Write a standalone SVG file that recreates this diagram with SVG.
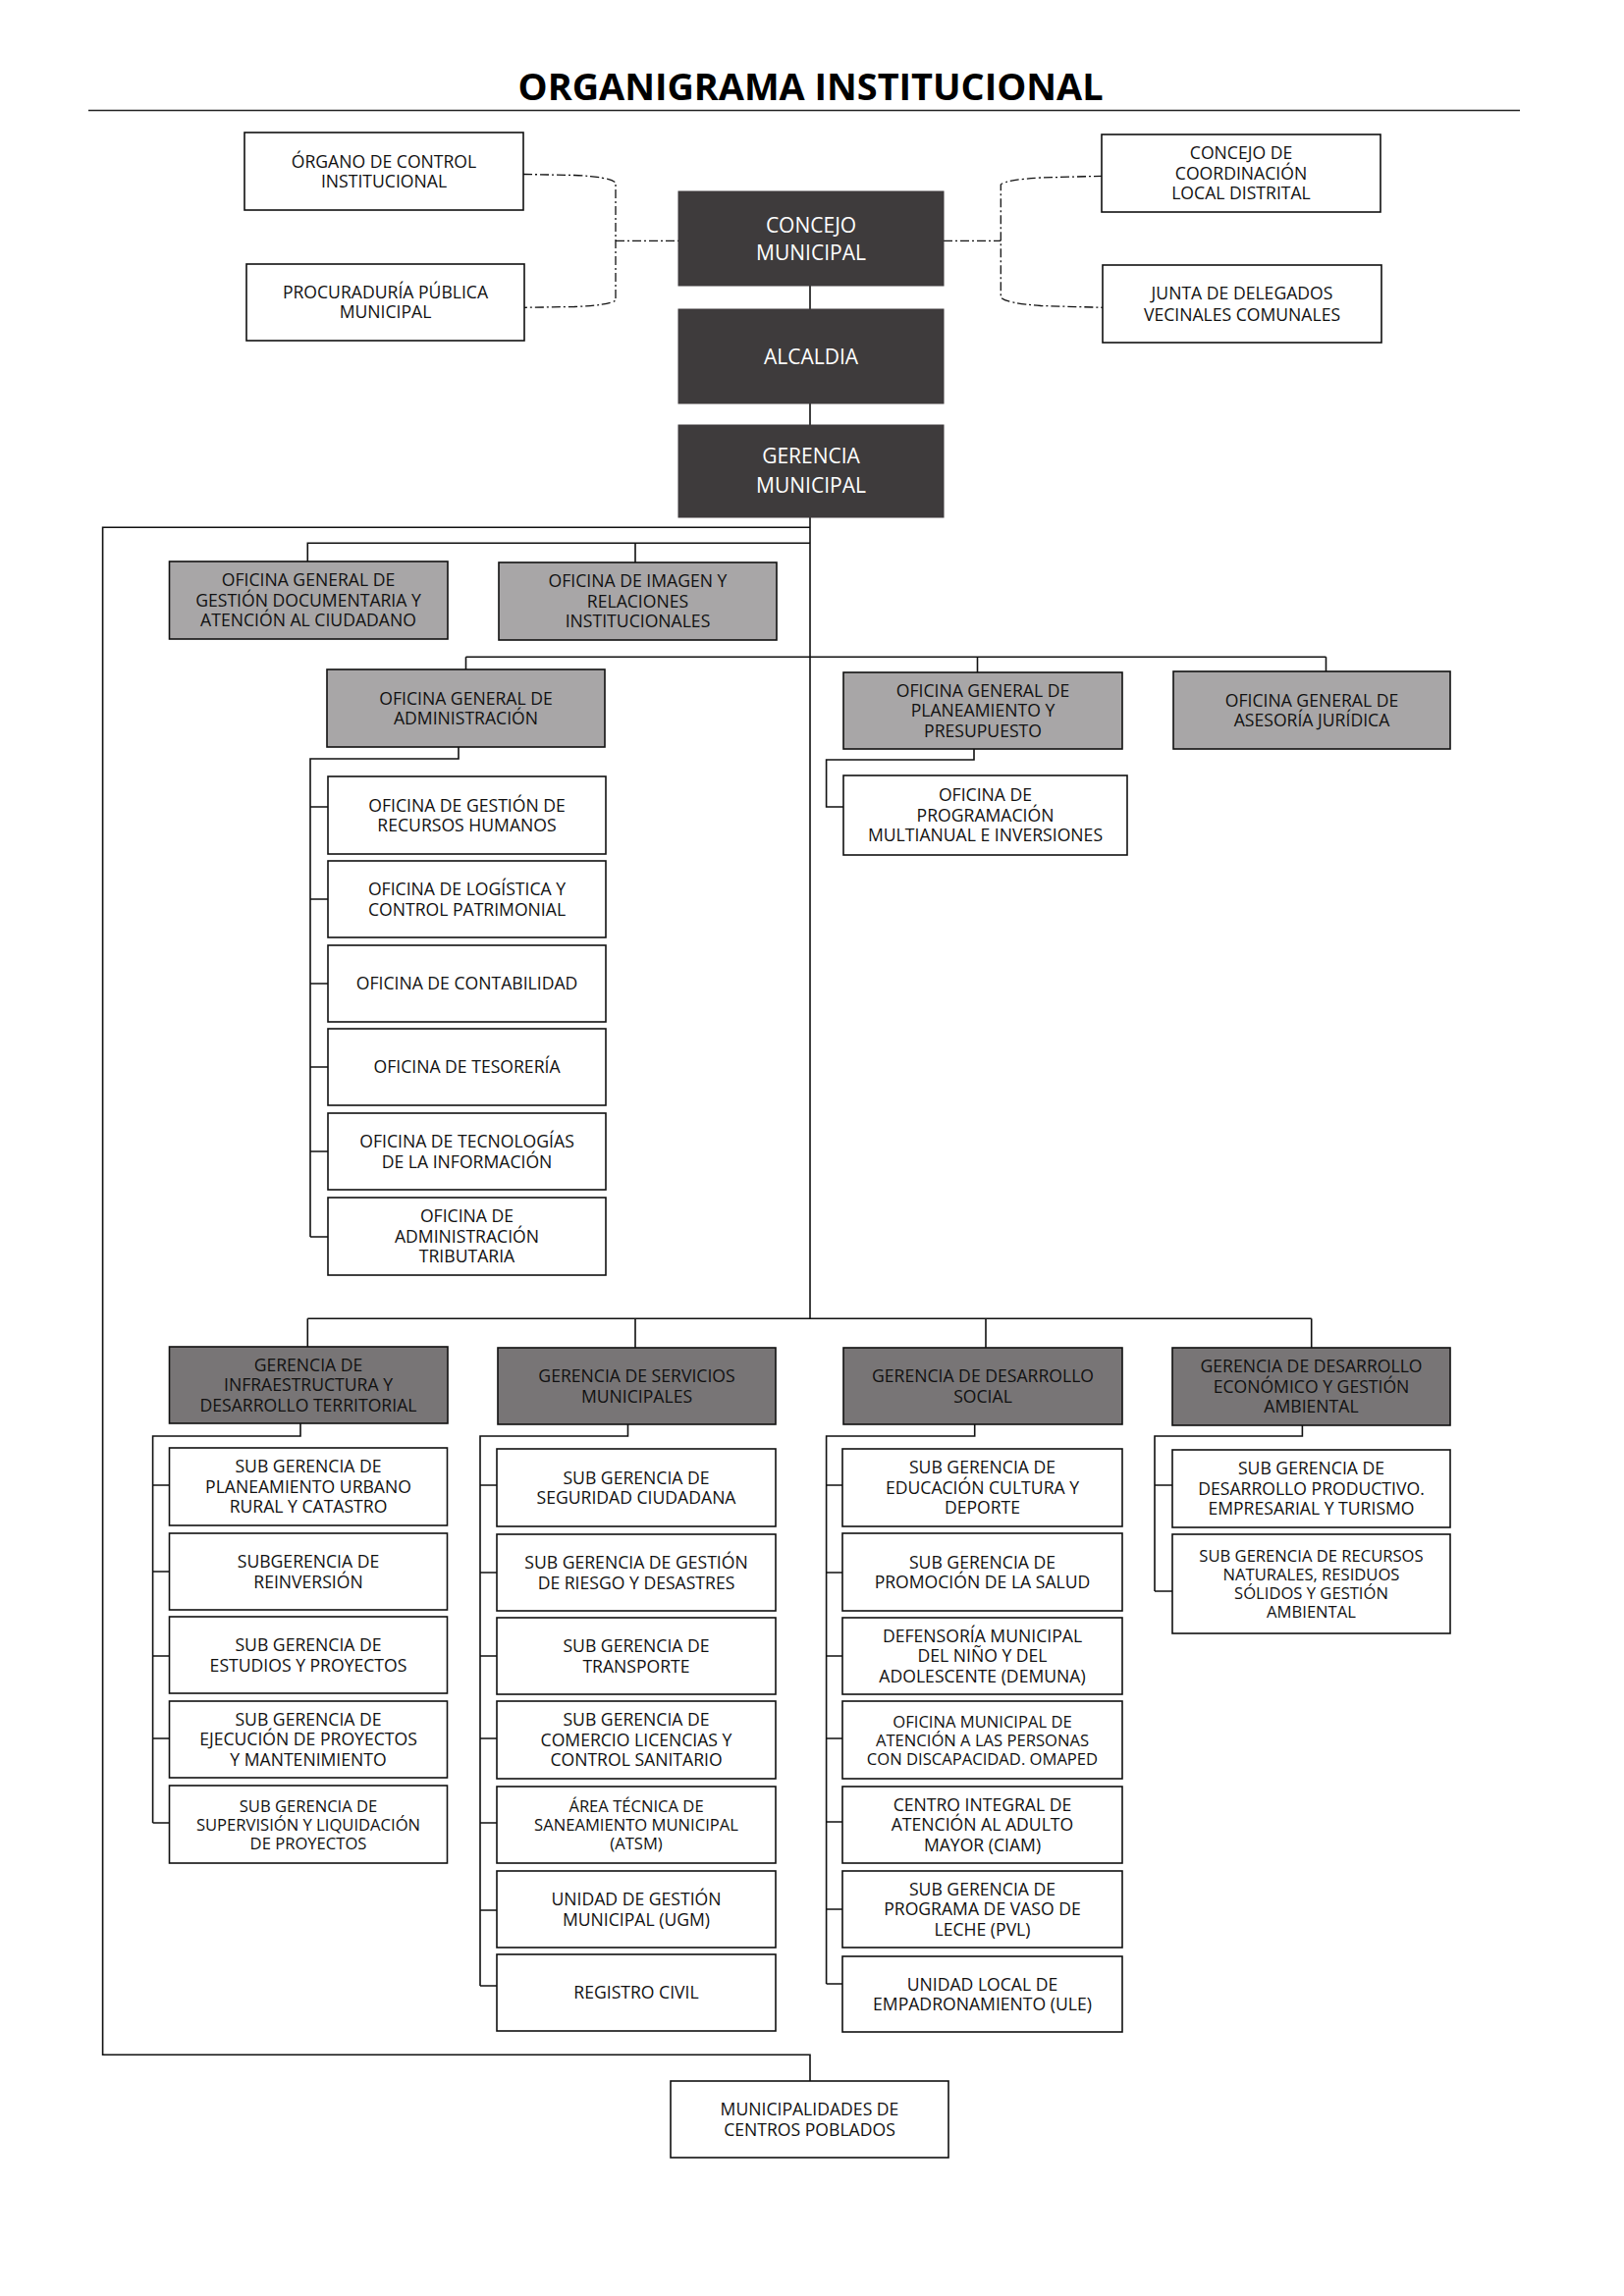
<svg xmlns="http://www.w3.org/2000/svg" width="1654" height="2339" viewBox="0 0 1654 2339">
<style>
text{font-family:"Open Sans","Liberation Sans",sans-serif;font-size:17.6px;fill:#111;text-anchor:middle}
.t{font-size:38px;font-weight:bold;fill:#000}
.w{fill:#ffffff;stroke:#111;stroke-width:1.6}
.g1{fill:#a8a6a7;stroke:#111;stroke-width:1.6}
.g2{fill:#787576;stroke:#111;stroke-width:1.6}
.d{fill:#3e3b3c;stroke:#3e3b3c;stroke-width:1}
.dt{fill:#ffffff;font-size:21px}
.s{font-size:16.6px}
.c{fill:none;stroke:#111;stroke-width:1.6}
.dash{fill:none;stroke:#111;stroke-width:1.3;stroke-dasharray:9 3 2 3}
</style>
<rect width="1654" height="2339" fill="#ffffff"/>
<text class="t" x="825.6" y="102" textLength="596" lengthAdjust="spacingAndGlyphs">ORGANIGRAMA INSTITUCIONAL</text>
<path d="M90,112.5 H1548" stroke="#222" stroke-width="1.3" fill="none"/>

<g id="connectors">
<path class="dash" d="M533,177.5 L585,178.5 Q620,180 627,186 L627,306 Q620,311 585,312.5 L534,313.3"/>
<path class="dash" d="M627,245.3 H691"/>
<path class="dash" d="M961,245.3 H1019.3"/>
<path class="dash" d="M1123,179.3 L1060,181 Q1025,183 1019.3,188 L1019.3,303 Q1025,309 1060,311.5 L1123,313.3"/>
<path class="c" d="M825,291 V315 M825,411 V433 M825,527 V1343"/>
<path class="c" d="M825,537.3 H104.6 V2093.3 H825 V2120"/>
<path class="c" d="M825,553.3 H313.3 V572 M647,553.3 V573"/>
<path class="c" d="M474.5,669.3 H1350.5 M474.5,669.3 V682 M995.5,669.3 V685 M1350.5,669.3 V684"/>
<path class="c" d="M467,761 V773 H316 V1260 M316,822 H334 M316,916 H334 M316,1002 H334 M316,1087 H334 M316,1173 H334 M316,1260 H334"/>
<path class="c" d="M992,763 V774 H841.6 V822 H859"/>
<path class="c" d="M313.3,1343.3 H1335.7 M313.3,1343.3 V1372 M647,1343.3 V1373 M1004,1343.3 V1373 M1335.7,1343.3 V1373"/>
<path class="c" d="M306,1450 V1463 H155.6 V1857 M155.6,1513 H172 M155.6,1601 H172 M155.6,1687 H172 M155.6,1771 H172 M155.6,1857 H172"/>
<path class="c" d="M639.5,1451 V1463 H489 V2023 M489,1513 H506 M489,1602 H506 M489,1687 H506 M489,1771 H506 M489,1857 H506 M489,1946 H506 M489,2023 H506"/>
<path class="c" d="M992.7,1451 V1463 H841.6 V2021 M841.6,1513 H858 M841.6,1602 H858 M841.6,1687 H858 M841.6,1771 H858 M841.6,1856 H858 M841.6,1945 H858 M841.6,2021 H858"/>
<path class="c" d="M1326.4,1452 V1463 H1176 V1621 M1176,1513 H1194 M1176,1621 H1194"/>
</g>

<g id="organo"><rect class="w" x="249" y="135" width="284" height="79"/><text><tspan x="391" y="170.8">ÓRGANO DE CONTROL</tspan><tspan x="391" y="190.8">INSTITUCIONAL</tspan></text></g>
<g id="procuraduria"><rect class="w" x="251" y="269" width="283" height="78"/><text><tspan x="392.5" y="304.3">PROCURADURÍA PÚBLICA</tspan><tspan x="392.5" y="324.3">MUNICIPAL</tspan></text></g>
<g id="concejo-coordinacion"><rect class="w" x="1122" y="137" width="284" height="79"/><text><tspan x="1264" y="162.3">CONCEJO DE</tspan><tspan x="1264" y="182.8">COORDINACIÓN</tspan><tspan x="1264" y="203.3">LOCAL DISTRITAL</tspan></text></g>
<g id="junta"><rect class="w" x="1123" y="270" width="284" height="79"/><text><tspan x="1265" y="304.8">JUNTA DE DELEGADOS</tspan><tspan x="1265" y="326.8">VECINALES COMUNALES</tspan></text></g>
<g id="concejo-municipal"><rect class="d" x="691" y="195" width="270" height="96"/><text class="dt"><tspan x="826" y="236.5">CONCEJO</tspan><tspan x="826" y="264.5">MUNICIPAL</tspan></text></g>
<g id="alcaldia"><rect class="d" x="691" y="315" width="270" height="96"/><text class="dt"><tspan x="826" y="370.5">ALCALDIA</tspan></text></g>
<g id="gerencia-municipal"><rect class="d" x="691" y="433" width="270" height="94"/><text class="dt"><tspan x="826" y="471.5">GERENCIA</tspan><tspan x="826" y="501.5">MUNICIPAL</tspan></text></g>

<g id="of-gestion-documentaria"><rect class="g1" x="172.5" y="572" width="283.5" height="79"/><text><tspan x="314" y="597.3">OFICINA GENERAL DE</tspan><tspan x="314" y="617.8">GESTIÓN DOCUMENTARIA Y</tspan><tspan x="314" y="638.3">ATENCIÓN AL CIUDADANO</tspan></text></g>
<g id="of-imagen"><rect class="g1" x="508" y="573" width="283" height="79"/><text><tspan x="649.5" y="598.3">OFICINA DE IMAGEN Y</tspan><tspan x="649.5" y="618.8">RELACIONES</tspan><tspan x="649.5" y="639.3">INSTITUCIONALES</tspan></text></g>
<g id="of-administracion"><rect class="g1" x="333" y="682" width="283" height="79"/><text><tspan x="474.5" y="717.5">OFICINA GENERAL DE</tspan><tspan x="474.5" y="738">ADMINISTRACIÓN</tspan></text></g>
<g id="of-planeamiento"><rect class="g1" x="859" y="685" width="284" height="78"/><text><tspan x="1001" y="709.8">OFICINA GENERAL DE</tspan><tspan x="1001" y="730.3">PLANEAMIENTO Y</tspan><tspan x="1001" y="750.8">PRESUPUESTO</tspan></text></g>
<g id="of-asesoria"><rect class="g1" x="1195" y="684" width="282" height="79"/><text><tspan x="1336" y="719.5">OFICINA GENERAL DE</tspan><tspan x="1336" y="740">ASESORÍA JURÍDICA</tspan></text></g>

<g id="of-rrhh"><rect class="w" x="334" y="791" width="283" height="79"/><text><tspan x="475.5" y="826.5">OFICINA DE GESTIÓN DE</tspan><tspan x="475.5" y="847">RECURSOS HUMANOS</tspan></text></g>
<g id="of-logistica"><rect class="w" x="334" y="877" width="283" height="78"/><text><tspan x="475.5" y="912">OFICINA DE LOGÍSTICA Y</tspan><tspan x="475.5" y="932.5">CONTROL PATRIMONIAL</tspan></text></g>
<g id="of-contabilidad"><rect class="w" x="334" y="963" width="283" height="78"/><text><tspan x="475.5" y="1008.3">OFICINA DE CONTABILIDAD</tspan></text></g>
<g id="of-tesoreria"><rect class="w" x="334" y="1048" width="283" height="78"/><text><tspan x="475.5" y="1093.3">OFICINA DE TESORERÍA</tspan></text></g>
<g id="of-tecnologias"><rect class="w" x="334" y="1134" width="283" height="78"/><text><tspan x="475.5" y="1169">OFICINA DE TECNOLOGÍAS</tspan><tspan x="475.5" y="1189.5">DE LA INFORMACIÓN</tspan></text></g>
<g id="of-tributaria"><rect class="w" x="334" y="1220" width="283" height="79"/><text><tspan x="475.5" y="1245.3">OFICINA DE</tspan><tspan x="475.5" y="1265.8">ADMINISTRACIÓN</tspan><tspan x="475.5" y="1286.3">TRIBUTARIA</tspan></text></g>
<g id="of-programacion"><rect class="w" x="859" y="790" width="289" height="81"/><text><tspan x="1003.5" y="816.3">OFICINA DE</tspan><tspan x="1003.5" y="836.8">PROGRAMACIÓN</tspan><tspan x="1003.5" y="857.3">MULTIANUAL E INVERSIONES</tspan></text></g>

<g id="g-infraestructura"><rect class="g2" x="172.5" y="1372" width="283.5" height="78"/><text><tspan x="314" y="1396.8">GERENCIA DE</tspan><tspan x="314" y="1417.3">INFRAESTRUCTURA Y</tspan><tspan x="314" y="1437.8">DESARROLLO TERRITORIAL</tspan></text></g>
<g id="g-servicios"><rect class="g2" x="507" y="1373" width="283" height="78"/><text><tspan x="648.5" y="1408">GERENCIA DE SERVICIOS</tspan><tspan x="648.5" y="1428.5">MUNICIPALES</tspan></text></g>
<g id="g-social"><rect class="g2" x="859" y="1373" width="284" height="78"/><text><tspan x="1001" y="1408">GERENCIA DE DESARROLLO</tspan><tspan x="1001" y="1428.5">SOCIAL</tspan></text></g>
<g id="g-economico"><rect class="g2" x="1194" y="1373" width="283" height="79"/><text><tspan x="1335.5" y="1398.3">GERENCIA DE DESARROLLO</tspan><tspan x="1335.5" y="1418.8">ECONÓMICO Y GESTIÓN</tspan><tspan x="1335.5" y="1439.3">AMBIENTAL</tspan></text></g>

<g id="sg-planeamiento"><rect class="w" x="172.5" y="1475" width="283" height="79"/><text><tspan x="314" y="1500.3">SUB GERENCIA DE</tspan><tspan x="314" y="1520.8">PLANEAMIENTO URBANO</tspan><tspan x="314" y="1541.3">RURAL Y CATASTRO</tspan></text></g>
<g id="sg-reinversion"><rect class="w" x="172.5" y="1562" width="283" height="78"/><text><tspan x="314" y="1597">SUBGERENCIA DE</tspan><tspan x="314" y="1617.5">REINVERSIÓN</tspan></text></g>
<g id="sg-estudios"><rect class="w" x="172.5" y="1647" width="283" height="78"/><text><tspan x="314" y="1682">SUB GERENCIA DE</tspan><tspan x="314" y="1702.5">ESTUDIOS Y PROYECTOS</tspan></text></g>
<g id="sg-ejecucion"><rect class="w" x="172.5" y="1733" width="283" height="78"/><text><tspan x="314" y="1757.8">SUB GERENCIA DE</tspan><tspan x="314" y="1778.3">EJECUCIÓN DE PROYECTOS</tspan><tspan x="314" y="1798.8">Y MANTENIMIENTO</tspan></text></g>
<g id="sg-supervision"><rect class="w" x="172.5" y="1819" width="283" height="79"/><text class="s"><tspan x="314" y="1845.5">SUB GERENCIA DE</tspan><tspan x="314" y="1864.5">SUPERVISIÓN Y LIQUIDACIÓN</tspan><tspan x="314" y="1883.5">DE PROYECTOS</tspan></text></g>

<g id="sg-seguridad"><rect class="w" x="506" y="1476" width="284" height="79"/><text><tspan x="648" y="1511.5">SUB GERENCIA DE</tspan><tspan x="648" y="1532">SEGURIDAD CIUDADANA</tspan></text></g>
<g id="sg-riesgo"><rect class="w" x="506" y="1563" width="284" height="78"/><text><tspan x="648" y="1598">SUB GERENCIA DE GESTIÓN</tspan><tspan x="648" y="1618.5">DE RIESGO Y DESASTRES</tspan></text></g>
<g id="sg-transporte"><rect class="w" x="506" y="1648" width="284" height="78"/><text><tspan x="648" y="1683">SUB GERENCIA DE</tspan><tspan x="648" y="1703.5">TRANSPORTE</tspan></text></g>
<g id="sg-comercio"><rect class="w" x="506" y="1733" width="284" height="79"/><text><tspan x="648" y="1758.3">SUB GERENCIA DE</tspan><tspan x="648" y="1778.8">COMERCIO LICENCIAS Y</tspan><tspan x="648" y="1799.3">CONTROL SANITARIO</tspan></text></g>
<g id="atsm"><rect class="w" x="506" y="1820" width="284" height="78"/><text class="s"><tspan x="648" y="1846">ÁREA TÉCNICA DE</tspan><tspan x="648" y="1865">SANEAMIENTO MUNICIPAL</tspan><tspan x="648" y="1884">(ATSM)</tspan></text></g>
<g id="ugm"><rect class="w" x="506" y="1906" width="284" height="78"/><text><tspan x="648" y="1941">UNIDAD DE GESTIÓN</tspan><tspan x="648" y="1961.5">MUNICIPAL (UGM)</tspan></text></g>
<g id="registro-civil"><rect class="w" x="506" y="1991" width="284" height="78"/><text><tspan x="648" y="2036.3">REGISTRO CIVIL</tspan></text></g>

<g id="sg-educacion"><rect class="w" x="858" y="1476" width="285" height="79"/><text><tspan x="1000.5" y="1501.3">SUB GERENCIA DE</tspan><tspan x="1000.5" y="1521.8">EDUCACIÓN CULTURA Y</tspan><tspan x="1000.5" y="1542.3">DEPORTE</tspan></text></g>
<g id="sg-salud"><rect class="w" x="858" y="1562" width="285" height="79"/><text><tspan x="1000.5" y="1597.5">SUB GERENCIA DE</tspan><tspan x="1000.5" y="1618">PROMOCIÓN DE LA SALUD</tspan></text></g>
<g id="demuna"><rect class="w" x="858" y="1648" width="285" height="78"/><text><tspan x="1000.5" y="1672.8">DEFENSORÍA MUNICIPAL</tspan><tspan x="1000.5" y="1693.3">DEL NIÑO Y DEL</tspan><tspan x="1000.5" y="1713.8">ADOLESCENTE (DEMUNA)</tspan></text></g>
<g id="omaped"><rect class="w" x="858" y="1733" width="285" height="79"/><text class="s"><tspan x="1000.5" y="1759.5">OFICINA MUNICIPAL DE</tspan><tspan x="1000.5" y="1778.5">ATENCIÓN A LAS PERSONAS</tspan><tspan x="1000.5" y="1797.5">CON DISCAPACIDAD. OMAPED</tspan></text></g>
<g id="ciam"><rect class="w" x="858" y="1820" width="285" height="78"/><text><tspan x="1000.5" y="1844.8">CENTRO INTEGRAL DE</tspan><tspan x="1000.5" y="1865.3">ATENCIÓN AL ADULTO</tspan><tspan x="1000.5" y="1885.8">MAYOR (CIAM)</tspan></text></g>
<g id="pvl"><rect class="w" x="858" y="1906" width="285" height="78"/><text><tspan x="1000.5" y="1930.8">SUB GERENCIA DE</tspan><tspan x="1000.5" y="1951.3">PROGRAMA DE VASO DE</tspan><tspan x="1000.5" y="1971.8">LECHE (PVL)</tspan></text></g>
<g id="ule"><rect class="w" x="858" y="1993" width="285" height="77"/><text><tspan x="1000.5" y="2027.5">UNIDAD LOCAL DE</tspan><tspan x="1000.5" y="2048">EMPADRONAMIENTO (ULE)</tspan></text></g>

<g id="sg-productivo"><rect class="w" x="1194" y="1477" width="283" height="79"/><text><tspan x="1335.5" y="1502.3">SUB GERENCIA DE</tspan><tspan x="1335.5" y="1522.8">DESARROLLO PRODUCTIVO.</tspan><tspan x="1335.5" y="1543.3">EMPRESARIAL Y TURISMO</tspan></text></g>
<g id="sg-recursos"><rect class="w" x="1194" y="1563" width="283" height="101"/><text class="s"><tspan x="1335.5" y="1591">SUB GERENCIA DE RECURSOS</tspan><tspan x="1335.5" y="1610">NATURALES, RESIDUOS</tspan><tspan x="1335.5" y="1629">SÓLIDOS Y GESTIÓN</tspan><tspan x="1335.5" y="1648">AMBIENTAL</tspan></text></g>

<g id="centros-poblados"><rect class="w" x="683" y="2120" width="283" height="78"/><text><tspan x="824.5" y="2155">MUNICIPALIDADES DE</tspan><tspan x="824.5" y="2175.5">CENTROS POBLADOS</tspan></text></g>
</svg>
